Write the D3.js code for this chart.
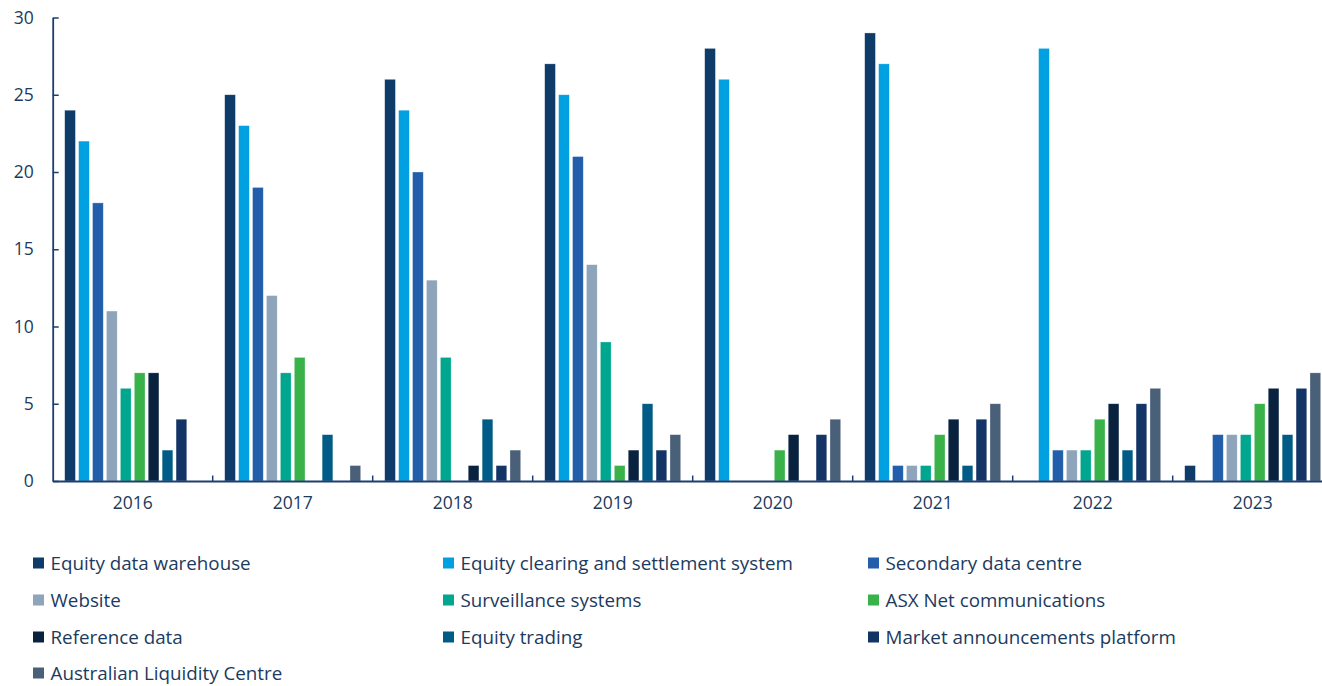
<!DOCTYPE html>
<html>
<head>
<meta charset="utf-8">
<script src="https://cdn.jsdelivr.net/npm/d3@7"></script>
<style>
  body { margin: 0; background: #fff; }
  svg { display: block; font-family: "Open Sans", sans-serif; }
  .axis path, .axis line { stroke: #1c3f6e; }
  .axis text { fill: #1c3a5e; font-size: 17.5px; font-family: "Open Sans", sans-serif; }
  .legend text { fill: #1c3a5e; font-size: 18.8px; }
</style>
</head>
<body>
<svg width="1322" height="686"></svg>
<script>
var years = ["2016", "2017", "2018", "2019", "2020", "2021", "2022", "2023"];

var seriesNames = [
  "Equity data warehouse",
  "Equity clearing and settlement system",
  "Secondary data centre",
  "Website",
  "Surveillance systems",
  "ASX Net communications",
  "Reference data",
  "Equity trading",
  "Market announcements platform",
  "Australian Liquidity Centre"
];

var seriesColors = ["#0f3b69", "#00a0e1", "#225eab", "#8ea4bb", "#00a68e", "#39b24a", "#08223f", "#005b86", "#133566", "#4a6079"];

// one row per series, one value per year
var equityDataWarehouse = [24, 25, 26, 27, 28, 29, 0, 1];
var equityClearing      = [22, 23, 24, 25, 26, 27, 28, 0];
var secondaryDataCentre = [18, 19, 20, 21, 0, 1, 2, 3];
var website             = [11, 12, 13, 14, 0, 1, 2, 3];
var surveillance        = [6, 7, 8, 9, 0, 1, 2, 3];
var asxNet              = [7, 8, 0, 1, 2, 3, 4, 5];
var referenceData       = [7, 0, 1, 2, 3, 4, 5, 6];
var equityTrading       = [2, 3, 4, 5, 0, 1, 2, 3];
var marketAnnouncements = [4, 0, 1, 2, 3, 4, 5, 6];
var liquidityCentre     = [0, 1, 2, 3, 4, 5, 6, 7];

var seriesValues = [equityDataWarehouse, equityClearing, secondaryDataCentre, website, surveillance,
                    asxNet, referenceData, equityTrading, marketAnnouncements, liquidityCentre];

var yTicks = [0, 5, 10, 15, 20, 25, 30];

var svg = d3.select("svg");

var plotLeft = 52.7, plotRight = 1332.7, plotTop = 17.5, plotBottom = 481;

var x0 = d3.scaleBand()
    .domain(years)
    .range([plotLeft, plotRight])
    .paddingInner(0.15)
    .paddingOuter(0.075);

var x1 = d3.scaleBand()
    .domain(d3.range(seriesNames.length))
    .range([0, x0.bandwidth()])
    .paddingInner(0.23)
    .paddingOuter(0);

var y = d3.scaleLinear()
    .domain([0, 30])
    .range([plotBottom, plotTop]);

// bars
var groups = svg.append("g")
  .selectAll("g")
  .data(years)
  .enter().append("g")
    .attr("transform", function(d) { return "translate(" + x0(d) + ",0)"; });

groups.selectAll("rect")
  .data(function(d, i) {
    return seriesValues.map(function(vals, s) { return { s: s, v: vals[i] }; });
  })
  .enter().filter(function(d) { return d.v > 0; }).append("rect")
    .attr("x", function(d) { return x1(d.s); })
    .attr("y", function(d) { return y(d.v); })
    .attr("width", x1.bandwidth())
    .attr("height", function(d) { return plotBottom - y(d.v); })
    .attr("fill", function(d) { return seriesColors[d.s]; })
    .attr("stroke", "#ffffff")
    .attr("stroke-opacity", 0.5)
    .attr("stroke-width", 0.6);

// y axis
var yAxis = svg.append("g")
    .attr("class", "axis")
    .attr("transform", "translate(" + plotLeft + ",0)")
    .call(d3.axisLeft(y).tickValues(yTicks).tickSize(-6).tickPadding(19).tickSizeOuter(0));
yAxis.select(".domain").attr("stroke-width", 1.8);
yAxis.selectAll(".tick line").attr("stroke-width", 1.5);

// x axis: labels centred, ticks on category boundaries
var xAxis = svg.append("g")
    .attr("class", "axis")
    .attr("transform", "translate(0," + plotBottom + ")")
    .call(d3.axisBottom(x0).tickSize(0).tickPadding(16).tickSizeOuter(0));
xAxis.select(".domain").attr("stroke-width", 2.2);

var bounds = years.map(function(d) { return x0(d) - x0.step() * x0.paddingOuter(); });
xAxis.selectAll("line.bound")
  .data(bounds.slice(1))
  .enter().append("line")
    .attr("class", "bound")
    .attr("x1", function(d) { return d; })
    .attr("x2", function(d) { return d; })
    .attr("y1", 0)
    .attr("y2", -5.5)
    .attr("stroke-width", 1.5);

// legend, three columns
var legendCols = [33, 443, 868];
var legendRows = [563, 600, 637, 673];

var legend = svg.append("g")
    .attr("class", "legend")
  .selectAll("g")
  .data(seriesNames)
  .enter().append("g")
    .attr("transform", function(d, i) {
      return "translate(" + legendCols[i % 3] + "," + legendRows[Math.floor(i / 3)] + ")";
    });

legend.append("rect")
    .attr("x", 0)
    .attr("y", -5.5)
    .attr("width", 11)
    .attr("height", 11)
    .attr("fill", function(d, i) { return seriesColors[i]; });

legend.append("text")
    .attr("x", 17.5)
    .attr("dy", "0.35em")
    .text(function(d) { return d; });
</script>
</body>
</html>
